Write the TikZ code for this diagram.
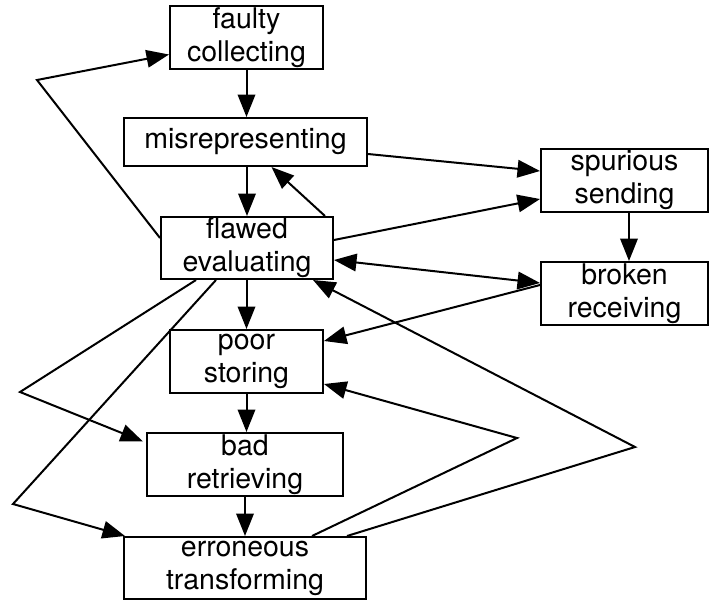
\documentclass[tikz,border=0pt]{standalone}
\usepackage{fontspec}
\setmainfont{TeX Gyre Heros}
\usetikzlibrary{arrows.meta}
\begin{document}
\begin{tikzpicture}[x=1pt,y=-1pt,
  box/.style={draw, line width=2pt, inner sep=0pt, align=center, font=\fontsize{28.5}{33}\selectfont},
  arr/.style={line width=2pt, -{Triangle[length=22.5pt,width=17.5pt]}},
  darr/.style={line width=2pt, {Triangle[length=22.5pt,width=17.5pt]}-{Triangle[length=22.5pt,width=17.5pt]}}]
\useasboundingbox (0,0) rectangle (709,600);
\node[box, minimum width=153pt, minimum height=63pt] (fc) at (246.5,37.5) {faulty\\collecting};
\node[box, minimum width=243pt, minimum height=48pt] (mis) at (245.5,142) {misrepresenting};
\node[box, minimum width=172pt, minimum height=62pt] (fe) at (247,248) {flawed\\evaluating};
\node[box, minimum width=167pt, minimum height=63pt] (ss) at (624.5,180.5) {spurious\\sending};
\node[box, minimum width=167pt, minimum height=63pt] (br) at (624.5,293.5) {broken\\receiving};
\node[box, minimum width=153pt, minimum height=63pt] (ps) at (246.5,361.5) {poor\\storing};
\node[box, minimum width=196pt, minimum height=63pt] (bad) at (245,464.5) {bad\\retrieving};
\node[box, minimum width=242pt, minimum height=62pt] (et) at (245,568) {erroneous\\transforming};

\coordinate (b3) at (37,80);
\coordinate (b11) at (20,392);
\coordinate (b12) at (13,504);
\coordinate (b15) at (517,438);
\coordinate (b16) at (635,447);

% vertical chain
\draw[arr] (fc.south) -- (fc.south |- mis.north);
\draw[arr] (fe.north |- mis.south) -- (fe.north);
\draw[arr] (ps.north |- fe.south) -- (ps.north);
\draw[arr] (ps.south) -- (ps.south |- bad.north);
\draw[arr] (bad.south) -- (bad.south |- et.north);
\draw[arr] ([xshift=4.5pt]ss.south) -- ([xshift=4.5pt]br.north);

% feedback and cross edges
\draw[arr] ([yshift=10pt]fe.west) -- (b3) -- ([yshift=-17pt]fc.west);
\draw[arr] ([xshift=-9pt]fe.north east) -- ([xshift=26pt]mis.south);
\draw[arr] ([yshift=-12pt]mis.east) -- ([yshift=9.5pt]ss.west);
\draw[arr] ([yshift=8pt]fe.east) -- ([yshift=-18.5pt]ss.west);
\draw[darr] ([yshift=-12pt]fe.east) -- ([yshift=10.5pt]br.west);
\draw[arr] ([yshift=8.5pt]br.west) -- ([yshift=20.5pt]ps.east);
\draw[arr] ([xshift=-51pt]fe.south) -- (b11) -- ([xshift=-3pt,yshift=23pt]bad.west);
\draw[arr] ([xshift=-31pt]fe.south) -- (b12) -- ([xshift=2pt]et.north west);
\draw[arr] ([xshift=67pt]et.north) -- (b15) -- ([yshift=-22.5pt]ps.east);
\draw[arr] ([xshift=102pt]et.north) -- (b16) -- ([xshift=-21pt]fe.south east);
\end{tikzpicture}
\end{document}
